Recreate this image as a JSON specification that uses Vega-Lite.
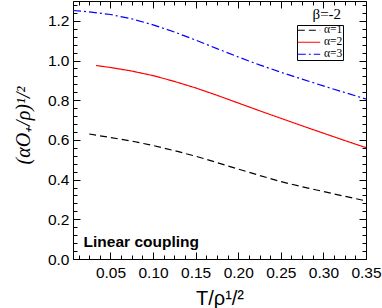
{
  "$schema": "https://vega.github.io/schema/vega-lite/v6.json",
  "width": 293,
  "height": 258,
  "autosize": {"type": "none"},
  "padding": {"left": 73, "top": 1, "right": 16, "bottom": 49},
  "background": "white",
  "config": {
    "view": {"stroke": "black", "strokeWidth": 1},
    "axis": {"grid": false, "domainColor": "black", "tickColor": "black", "labelColor": "black", "titleColor": "black"}
  },
  "datasets": {
    "curves": [
      {"s": "α=1", "T": 0.025, "v": 0.630},
      {"s": "α=1", "T": 0.05, "v": 0.612},
      {"s": "α=1", "T": 0.075, "v": 0.594},
      {"s": "α=1", "T": 0.10, "v": 0.572},
      {"s": "α=1", "T": 0.125, "v": 0.546},
      {"s": "α=1", "T": 0.15, "v": 0.518},
      {"s": "α=1", "T": 0.175, "v": 0.486},
      {"s": "α=1", "T": 0.20, "v": 0.453},
      {"s": "α=1", "T": 0.225, "v": 0.421},
      {"s": "α=1", "T": 0.25, "v": 0.390},
      {"s": "α=1", "T": 0.275, "v": 0.364},
      {"s": "α=1", "T": 0.30, "v": 0.340},
      {"s": "α=1", "T": 0.325, "v": 0.316},
      {"s": "α=1", "T": 0.35, "v": 0.293},
      {"s": "α=2", "T": 0.033, "v": 0.975},
      {"s": "α=2", "T": 0.05, "v": 0.965},
      {"s": "α=2", "T": 0.075, "v": 0.947},
      {"s": "α=2", "T": 0.10, "v": 0.924},
      {"s": "α=2", "T": 0.125, "v": 0.895},
      {"s": "α=2", "T": 0.15, "v": 0.862},
      {"s": "α=2", "T": 0.175, "v": 0.825},
      {"s": "α=2", "T": 0.20, "v": 0.786},
      {"s": "α=2", "T": 0.225, "v": 0.747},
      {"s": "α=2", "T": 0.25, "v": 0.709},
      {"s": "α=2", "T": 0.275, "v": 0.671},
      {"s": "α=2", "T": 0.30, "v": 0.634},
      {"s": "α=2", "T": 0.325, "v": 0.597},
      {"s": "α=2", "T": 0.35, "v": 0.561},
      {"s": "α=3", "T": 0.006, "v": 1.252},
      {"s": "α=3", "T": 0.025, "v": 1.245},
      {"s": "α=3", "T": 0.05, "v": 1.232},
      {"s": "α=3", "T": 0.075, "v": 1.210},
      {"s": "α=3", "T": 0.10, "v": 1.180},
      {"s": "α=3", "T": 0.125, "v": 1.144},
      {"s": "α=3", "T": 0.15, "v": 1.103},
      {"s": "α=3", "T": 0.175, "v": 1.060},
      {"s": "α=3", "T": 0.20, "v": 1.018},
      {"s": "α=3", "T": 0.225, "v": 0.978},
      {"s": "α=3", "T": 0.25, "v": 0.941},
      {"s": "α=3", "T": 0.275, "v": 0.906},
      {"s": "α=3", "T": 0.30, "v": 0.872},
      {"s": "α=3", "T": 0.325, "v": 0.839},
      {"s": "α=3", "T": 0.35, "v": 0.806}
    ],
    "note": [{"label": "Linear coupling", "T": 0.0184, "v": 0.06}],
    "beta": [{"label": "β=-2", "T": 0.304, "v": 1.209}]
  },
  "resolve": {"axis": {"x": "independent", "y": "independent"}},
  "layer": [
    {
      "data": {"name": "curves"},
      "mark": {"type": "line", "strokeWidth": 1.2},
      "encoding": {
        "x": {
          "field": "T", "type": "quantitative",
          "scale": {"domain": [0.006, 0.35], "nice": false, "zero": false},
          "axis": {
            "orient": "bottom",
            "title": "T/ρ¹/²",
            "titleFont": "Liberation Sans", "titleFontSize": 20, "titleFontWeight": "normal",
            "titlePadding": 5,
            "values": [0.0125,0.025,0.0375,0.05,0.0625,0.075,0.0875,0.1,0.1125,0.125,0.1375,0.15,0.1625,0.175,0.1875,0.2,0.2125,0.225,0.2375,0.25,0.2625,0.275,0.2875,0.3,0.3125,0.325,0.3375,0.35],
            "labelExpr": "abs(datum.value*20 - round(datum.value*20)) < 0.01 ? format(datum.value, '.2f') : ''",
            "tickSize": {"condition": {"test": "abs(datum.value*20 - round(datum.value*20)) < 0.01", "value": -7}, "value": -4},
            "labelFont": "Liberation Sans", "labelFontSize": 15.5, "labelPadding": 13,
            "labelFlush": false, "labelOverlap": false
          }
        },
        "y": {
          "field": "v", "type": "quantitative",
          "scale": {"domain": [0, 1.3], "nice": false},
          "axis": {
            "orient": "left",
            "title": "(αO₊/ρ)¹/²",
            "titleFont": "Liberation Serif", "titleFontStyle": "italic", "titleFontSize": 20, "titleFontWeight": "normal",
            "titleX": -44, "titleY": 124, "titleAngle": -90, "titleAlign": "center", "titleBaseline": "alphabetic",
            "values": [0,0.04,0.08,0.12,0.16,0.2,0.24,0.28,0.32,0.36,0.4,0.44,0.48,0.52,0.56,0.6,0.64,0.68,0.72,0.76,0.8,0.84,0.88,0.92,0.96,1.0,1.04,1.08,1.12,1.16,1.2,1.24,1.28],
            "labelExpr": "abs(datum.value*5 - round(datum.value*5)) < 0.01 ? format(datum.value, '.1f') : ''",
            "tickSize": {"condition": {"test": "abs(datum.value*5 - round(datum.value*5)) < 0.01", "value": -7}, "value": -4},
            "labelFont": "Liberation Sans", "labelFontSize": 15.5, "labelPadding": 11,
            "labelFlush": false, "labelOverlap": false
          }
        },
        "color": {
          "field": "s", "type": "nominal",
          "scale": {"domain": ["α=1", "α=2", "α=3"], "range": ["#000000", "#ff0000", "#0000ff"]},
          "legend": {
            "title": null,
            "orient": "none", "legendX": 224, "legendY": 24,
            "strokeColor": "black", "fillColor": "white",
            "padding": 0, "symbolType": "stroke", "symbolSize": 500, "symbolStrokeWidth": 1.2,
            "labelFont": "Liberation Serif", "labelFontSize": 11.5, "labelOffset": 3,
            "clipHeight": 10.5, "rowPadding": 0
          }
        },
        "strokeDash": {
          "field": "s", "type": "nominal",
          "scale": {"domain": ["α=1", "α=2", "α=3"], "range": [[7, 4], [1, 0], [8, 3, 2, 3]]},
          "legend": {
            "title": null,
            "orient": "none", "legendX": 224, "legendY": 24,
            "strokeColor": "black", "fillColor": "white",
            "padding": 0, "symbolType": "stroke", "symbolSize": 500, "symbolStrokeWidth": 1.2,
            "labelFont": "Liberation Serif", "labelFontSize": 11.5, "labelOffset": 3,
            "clipHeight": 10.5, "rowPadding": 0
          }
        }
      }
    },
    {
      "data": {"name": "note"},
      "mark": {"type": "text", "align": "left", "baseline": "alphabetic", "font": "Liberation Sans", "fontWeight": "bold", "fontSize": 15.5, "color": "black"},
      "encoding": {
        "x": {"field": "T", "type": "quantitative", "axis": {"orient": "top", "title": null, "labels": false, "domain": false,
          "values": [0.0125,0.025,0.0375,0.05,0.0625,0.075,0.0875,0.1,0.1125,0.125,0.1375,0.15,0.1625,0.175,0.1875,0.2,0.2125,0.225,0.2375,0.25,0.2625,0.275,0.2875,0.3,0.3125,0.325,0.3375,0.35],
          "tickSize": {"condition": {"test": "abs(datum.value*20 - round(datum.value*20)) < 0.01", "value": -7}, "value": -4}}},
        "y": {"field": "v", "type": "quantitative", "axis": {"orient": "right", "title": null, "labels": false, "domain": false,
          "values": [0,0.04,0.08,0.12,0.16,0.2,0.24,0.28,0.32,0.36,0.4,0.44,0.48,0.52,0.56,0.6,0.64,0.68,0.72,0.76,0.8,0.84,0.88,0.92,0.96,1.0,1.04,1.08,1.12,1.16,1.2,1.24,1.28],
          "tickSize": {"condition": {"test": "abs(datum.value*5 - round(datum.value*5)) < 0.01", "value": -7}, "value": -4}}},
        "text": {"field": "label"}
      }
    },
    {
      "data": {"name": "beta"},
      "mark": {"type": "text", "align": "center", "baseline": "alphabetic", "font": "Liberation Serif", "fontSize": 15, "color": "black"},
      "encoding": {
        "x": {"field": "T", "type": "quantitative", "axis": null},
        "y": {"field": "v", "type": "quantitative", "axis": null},
        "text": {"field": "label"}
      }
    }
  ]
}
